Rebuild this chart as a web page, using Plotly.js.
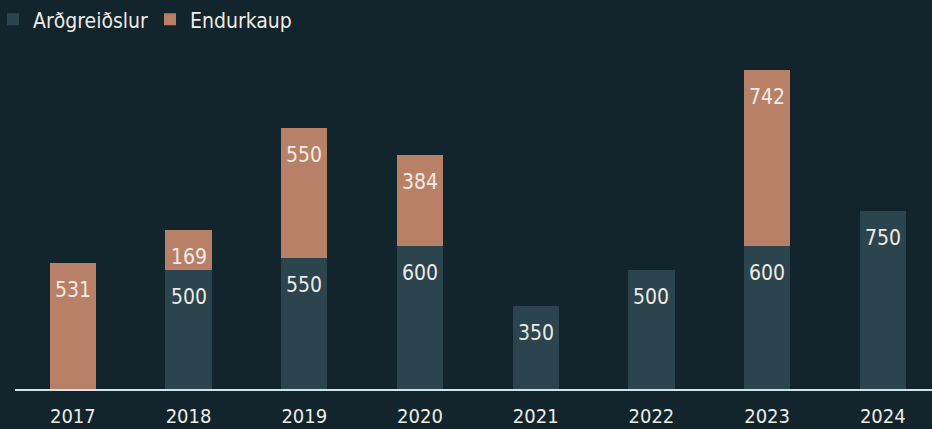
<!DOCTYPE html>
<html>
<head>
<meta charset="utf-8">
<script src="https://cdn.plot.ly/plotly-3.0.1.min.js"></script>
<style>
  html, body { margin: 0; padding: 0; background: #12242c; }
  #plot { width: 932px; height: 429px; }
</style>
</head>
<body>
<div id="plot"></div>
<script>
    const years = ['2017', '2018', '2019', '2020', '2021', '2022', '2023', '2024'];
    const ardgreidslur = [0, 500, 550, 600, 350, 500, 600, 750];
    const endurkaup = [531, 169, 550, 384, 0, 0, 742, 0];

    function font(size) {
        return { family: 'DejaVu Sans Condensed, DejaVu Sans, sans-serif', size: size, color: '#eeebe5' };
    }

    const traces = [
        {
            name: 'Arðgreiðslur',
            x: years, y: ardgreidslur, type: 'bar',
            marker: { color: '#2b444d' },
            hoverinfo: 'x+y'
        },
        {
            name: 'Endurkaup',
            x: years, y: endurkaup, type: 'bar',
            marker: { color: '#b98068' },
            hoverinfo: 'x+y'
        }
    ];

    // merki efst inni i hverjum bita
    var annotations = [];
    years.forEach(function (yr, i) {
        var a = ardgreidslur[i];
        var e = endurkaup[i];
        if (a > 0) {
            annotations.push({ xref: 'x', yref: 'y', x: i, y: a, text: String(a), showarrow: false,
                yanchor: 'top', yshift: -13, font: font(21) });
        }
        if (e > 0) {
            annotations.push({ xref: 'x', yref: 'y', x: i, y: a + e, text: String(e), showarrow: false,
                yanchor: 'top', yshift: -13, font: font(21) });
        }
    });

    const layout = {
        width: 932, height: 429,
        barmode: 'stack',
        bargap: 0.6,
        paper_bgcolor: '#12242c',
        plot_bgcolor: '#12242c',
        font: font(21),
        margin: { l: 15, r: 0, t: 50, b: 40, autoexpand: false },
        showlegend: true,
        legend: {
            orientation: 'h', x: -0.024, y: 1.15, xanchor: 'left', yanchor: 'top',
            bgcolor: 'rgba(0,0,0,0)', font: font(21), traceorder: 'normal',
            entrywidth: 112
        },
        annotations: annotations,
        xaxis: {
            type: 'category',
            range: [-0.5, 7.425],
            showline: true, linecolor: '#cfe3ea', linewidth: 2,
            ticks: '', tickfont: font(20), showgrid: false,
            ticklabelstandoff: 8
        },
        yaxis: {
            range: [0, 1427],
            showgrid: false, zeroline: false, showticklabels: false
        }
    };

    Plotly.newPlot('plot', traces, layout, { displayModeBar: false, staticPlot: true });
</script>
</body>
</html>
